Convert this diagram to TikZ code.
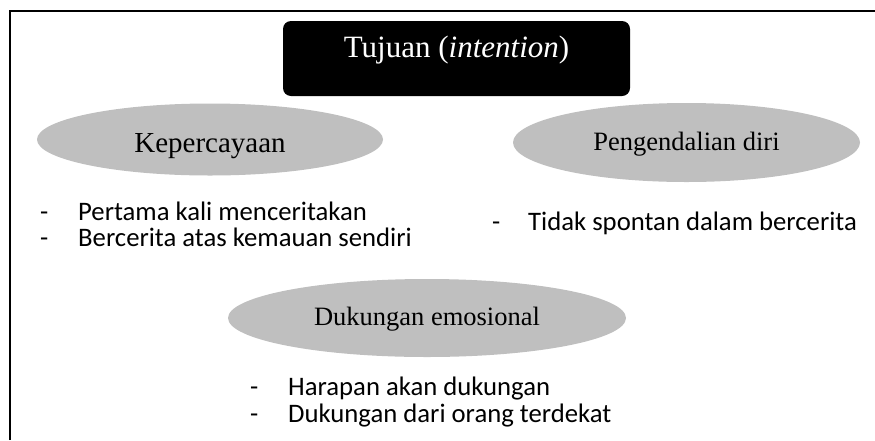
\documentclass[tikz,border=0pt]{standalone}
\usepackage{fontspec}
\setmainfont{Liberation Serif}
\newfontfamily\calibri{Carlito}
\usetikzlibrary{shapes.geometric}
\definecolor{ovalgray}{RGB}{191,191,191}

\begin{document}
\begin{tikzpicture}[x=1pt,y=-1pt,
    title/.style={rectangle,rounded corners=8pt,fill=black,text=white,inner sep=0pt,
        minimum width=347pt,minimum height=75pt,text height=21pt,text depth=24pt,
        font=\fontsize{31}{36}\selectfont},
    oval/.style={ellipse,fill=ovalgray,inner sep=0pt,text height=19pt,text depth=4pt,
        font=\fontsize{26.5}{30}\selectfont},
    item/.style={anchor=base west,inner sep=0pt,font=\calibri\fontsize{26.7}{30}\selectfont}]
        \useasboundingbox (0,0) rectangle (875,440);

        % frame (only left and top edges are visible)
        \draw[line width=2.5pt] (10,440) -- (10,11) -- (875,11);

        \node[title] (tuj) at (456.5,58.5) {Tujuan (\textit{intention})};

        \node[oval,minimum width=346pt,minimum height=72pt,text height=25pt,text depth=0pt,
            font=\fontsize{29}{34}\selectfont] (kep) at (210,139.5) {Kepercayaan};
        \node[oval,minimum width=347pt,minimum height=79pt] (pen) at (686.5,142.5) {Pengendalian diri};
        \node[oval,minimum width=398pt,minimum height=78pt] (duk) at (427,318) {Dukungan emosional};

        % butir-butir
        \node[item] (kep1) at (40,220) {\makebox[38pt][l]{-}Pertama kali menceritakan};
        \node[item] (kep2) at (40,246) {\makebox[38pt][l]{-}Bercerita atas kemauan sendiri};
        \node[item] (pen1) at (492,230) {\makebox[36pt][l]{-}Tidak spontan dalam bercerita};
        \node[item] (duk1) at (250,395) {\makebox[38pt][l]{-}Harapan akan dukungan};
        \node[item] (duk2) at (250,422) {\makebox[38pt][l]{-}Dukungan dari orang terdekat};
\end{tikzpicture}
\end{document}
